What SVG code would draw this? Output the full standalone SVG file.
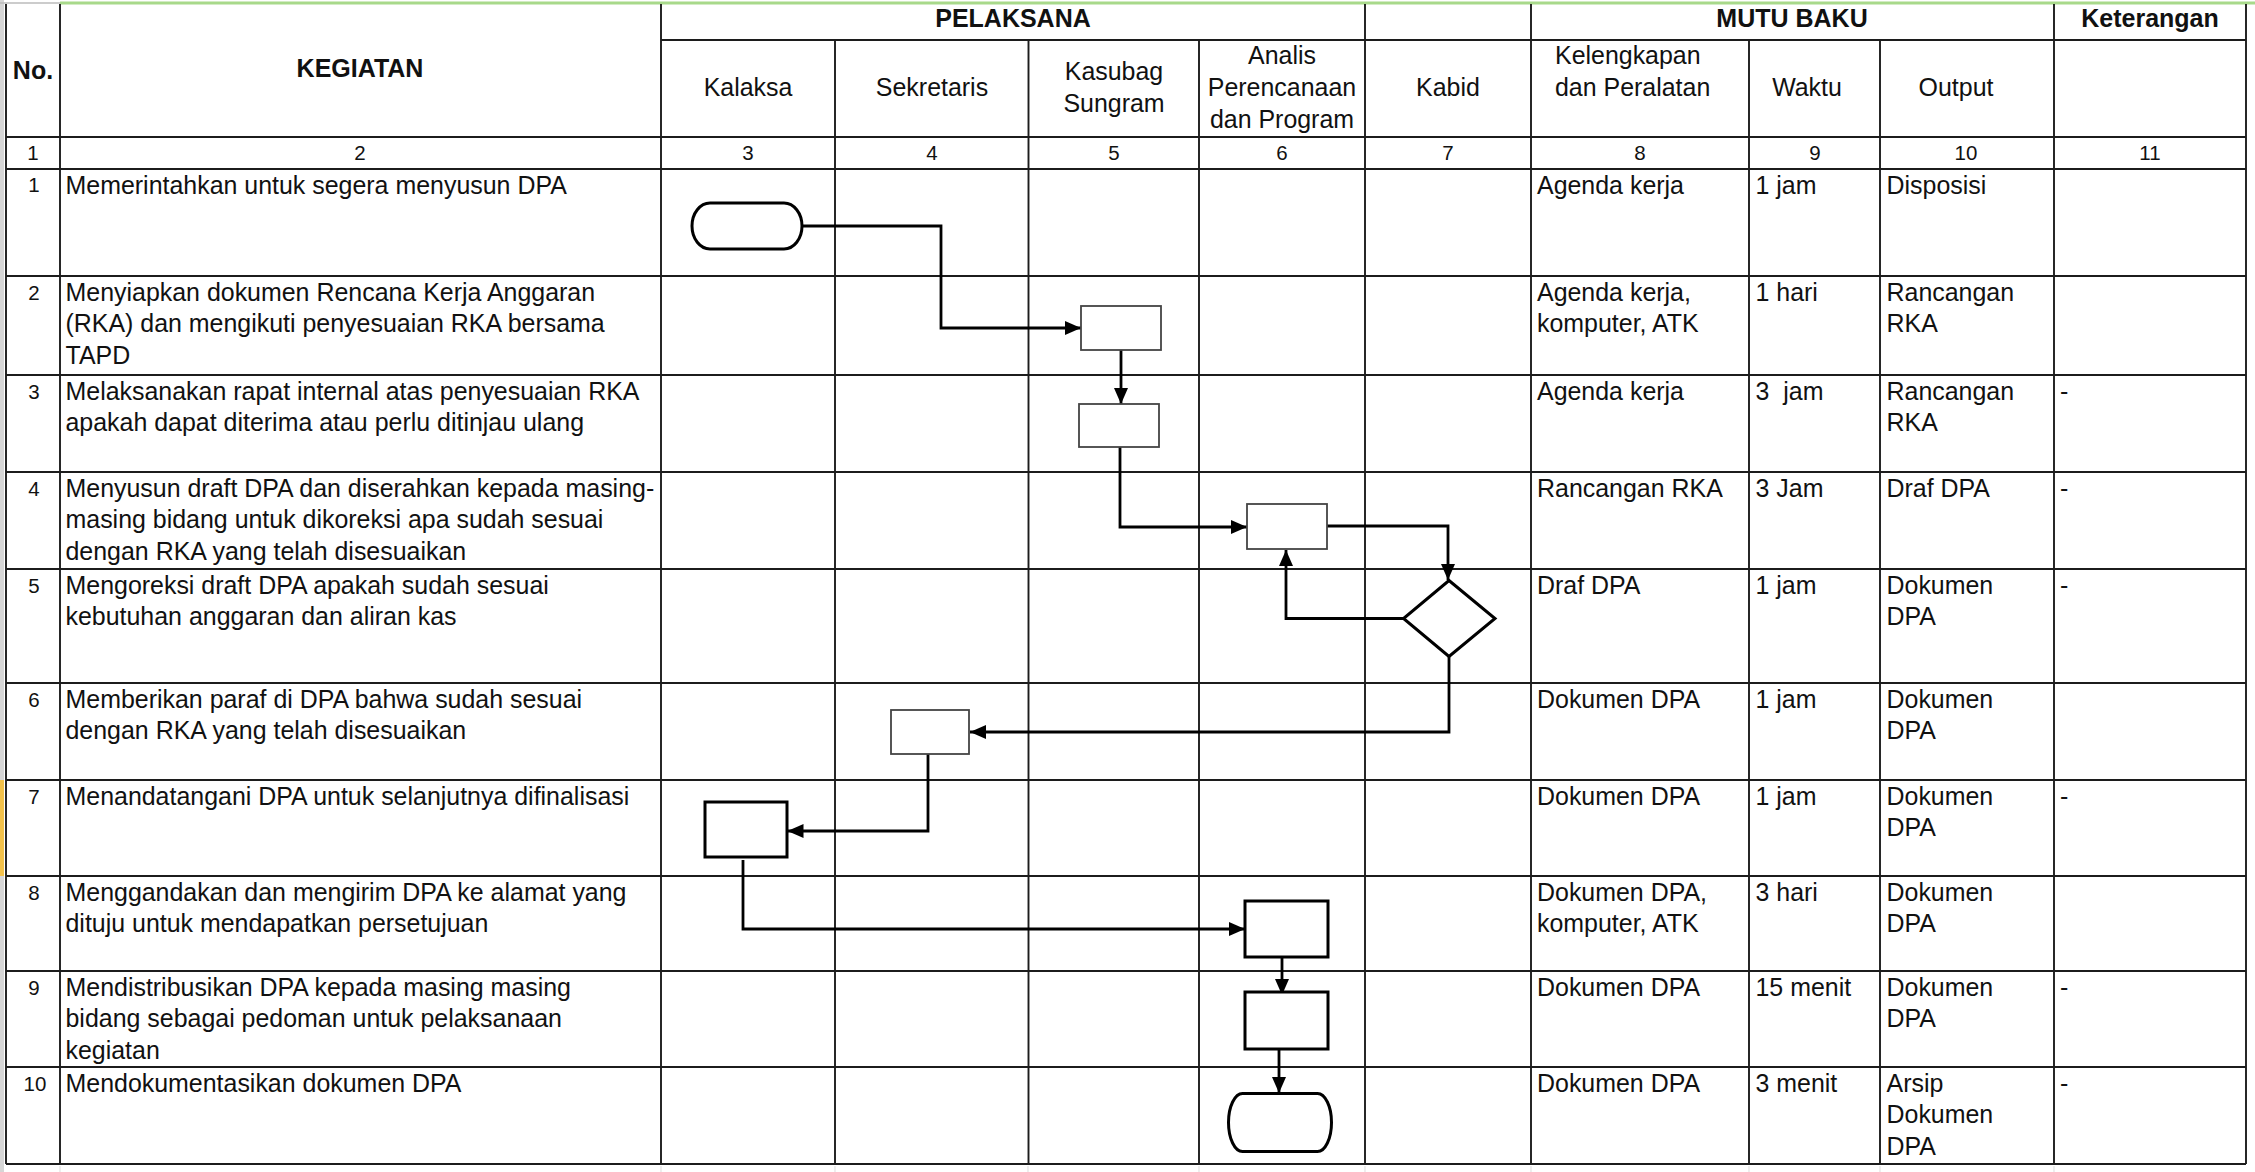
<svg xmlns="http://www.w3.org/2000/svg" width="2255" height="1172" viewBox="0 0 2255 1172">
<style>
  .t { font-family: "Liberation Sans", Arial, sans-serif; font-size: 24.95px; fill: #111; }
  .b { font-family: "Liberation Sans", Arial, sans-serif; font-size: 25px; font-weight: bold; fill: #111; }
  .n { font-family: "Liberation Sans", Arial, sans-serif; font-size: 20.5px; fill: #111; }
  .c { text-anchor: middle; }
  .grid line { stroke: #1c1c1c; stroke-width: 1.9; }
  .thin { fill: #fff; stroke: #444; stroke-width: 1.8; }
  .thick { fill: #fff; stroke: #000; stroke-width: 3; }
  .conn path { fill: none; stroke: #000; stroke-width: 2.8; }
</style>
<defs>
  <marker id="arr" markerUnits="userSpaceOnUse" markerWidth="16" markerHeight="14" refX="16" refY="7" orient="auto">
    <path d="M0,0 L16,7 L0,14 z" fill="#000"/>
  </marker>
</defs>
<rect x="0" y="0" width="2255" height="1172" fill="#fff"/>
<!-- spreadsheet artifacts -->
<rect x="0" y="0" width="4" height="1172" fill="#d6d6d6"/>
<rect x="0" y="780" width="4" height="96" fill="#f2c14a"/>
<line x1="0" y1="3" x2="60" y2="3" stroke="#bbb" stroke-width="1.5"/>
<line x1="60" y1="3" x2="2255" y2="3" stroke="#a8d98a" stroke-width="3"/>
<g stroke="#e2e2e2" stroke-width="1.2">
  <line x1="60" y1="1166" x2="60" y2="1172"/><line x1="661" y1="1166" x2="661" y2="1172"/>
  <line x1="835" y1="1166" x2="835" y2="1172"/><line x1="1028" y1="1166" x2="1028" y2="1172"/>
  <line x1="1199" y1="1166" x2="1199" y2="1172"/><line x1="1365" y1="1166" x2="1365" y2="1172"/>
  <line x1="1531" y1="1166" x2="1531" y2="1172"/><line x1="1749" y1="1166" x2="1749" y2="1172"/>
  <line x1="1880" y1="1166" x2="1880" y2="1172"/><line x1="2054" y1="1166" x2="2054" y2="1172"/>
</g>
<!-- table grid -->
<g class="grid" id="grid">
  <line x1="6" y1="4" x2="6" y2="1164"/>
  <line x1="60" y1="4" x2="60" y2="1164"/>
  <line x1="661" y1="4" x2="661" y2="1164"/>
  <line x1="835" y1="40" x2="835" y2="1164"/>
  <line x1="1028.5" y1="40" x2="1028.5" y2="1164"/>
  <line x1="1199" y1="40" x2="1199" y2="1164"/>
  <line x1="1365" y1="4" x2="1365" y2="1164"/>
  <line x1="1531" y1="4" x2="1531" y2="1164"/>
  <line x1="1749" y1="40" x2="1749" y2="1164"/>
  <line x1="1880" y1="40" x2="1880" y2="1164"/>
  <line x1="2054" y1="4" x2="2054" y2="1164"/>
  <line x1="2246" y1="4" x2="2246" y2="1164"/>
  <line x1="661" y1="40" x2="2246" y2="40"/>
  <line x1="6" y1="137" x2="2246" y2="137"/>
  <line x1="6" y1="169" x2="2246" y2="169"/>
  <line x1="6" y1="276" x2="2246" y2="276"/>
  <line x1="6" y1="375" x2="2246" y2="375"/>
  <line x1="6" y1="472" x2="2246" y2="472"/>
  <line x1="6" y1="569" x2="2246" y2="569"/>
  <line x1="6" y1="683" x2="2246" y2="683"/>
  <line x1="6" y1="780" x2="2246" y2="780"/>
  <line x1="6" y1="876" x2="2246" y2="876"/>
  <line x1="6" y1="971" x2="2246" y2="971"/>
  <line x1="6" y1="1067" x2="2246" y2="1067"/>
  <line x1="6" y1="1164" x2="2246" y2="1164"/>
</g>
<!-- header -->
<g id="header">
  <text class="b c" x="33" y="79">No.</text>
  <text class="b c" x="360" y="77">KEGIATAN</text>
  <text class="b c" x="1013" y="27">PELAKSANA</text>
  <text class="b c" x="1792" y="27">MUTU BAKU</text>
  <text class="b c" x="2150" y="27">Keterangan</text>
  <text class="t c" x="748" y="96">Kalaksa</text>
  <text class="t c" x="932" y="96">Sekretaris</text>
  <text class="t c" x="1114" y="79.5">Kasubag</text>
  <text class="t c" x="1114" y="111.5">Sungram</text>
  <text class="t c" x="1282" y="63.5">Analis</text>
  <text class="t c" x="1282" y="96">Perencanaan</text>
  <text class="t c" x="1282" y="127.5">dan Program</text>
  <text class="t c" x="1448" y="96">Kabid</text>
  <text class="t" x="1555" y="64">Kelengkapan</text>
  <text class="t" x="1555" y="95.5">dan Peralatan</text>
  <text class="t c" x="1807" y="96">Waktu</text>
  <text class="t c" x="1956" y="96">Output</text>
  <text class="n c" x="33" y="160">1</text>
  <text class="n c" x="360" y="160">2</text>
  <text class="n c" x="748" y="160">3</text>
  <text class="n c" x="932" y="160">4</text>
  <text class="n c" x="1114" y="160">5</text>
  <text class="n c" x="1282" y="160">6</text>
  <text class="n c" x="1448" y="160">7</text>
  <text class="n c" x="1640" y="160">8</text>
  <text class="n c" x="1815" y="160">9</text>
  <text class="n c" x="1966" y="160">10</text>
  <text class="n c" x="2150" y="160">11</text>
</g>
<!-- rows -->
<g id="row1">
  <text class="n c" x="34" y="192">1</text>
  <text class="t" x="65.5" y="193.5">Memerintahkan untuk segera menyusun DPA</text>
  <text class="t" x="1537" y="193.5">Agenda kerja</text>
  <text class="t" x="1755.5" y="193.5">1 jam</text>
  <text class="t" x="1886.5" y="193.5">Disposisi</text>
</g>
<g id="row2">
  <text class="n c" x="34" y="299.5">2</text>
  <text class="t" x="65.5" y="300.5">Menyiapkan dokumen Rencana Kerja Anggaran</text>
  <text class="t" x="65.5" y="332">(RKA) dan mengikuti penyesuaian RKA bersama</text>
  <text class="t" x="65.5" y="363.5">TAPD</text>
  <text class="t" x="1537" y="300.5">Agenda kerja,</text>
  <text class="t" x="1537" y="332">komputer, ATK</text>
  <text class="t" x="1755.5" y="300.5">1 hari</text>
  <text class="t" x="1886.5" y="300.5">Rancangan</text>
  <text class="t" x="1886.5" y="332">RKA</text>
</g>
<g id="row3">
  <text class="n c" x="34" y="398.5">3</text>
  <text class="t" x="65.5" y="399.5">Melaksanakan rapat internal atas penyesuaian RKA</text>
  <text class="t" x="65.5" y="431">apakah dapat diterima atau perlu ditinjau ulang</text>
  <text class="t" x="1537" y="399.5">Agenda kerja</text>
  <text class="t" x="1755.5" y="399.5" style="white-space:pre">3  jam</text>
  <text class="t" x="1886.5" y="399.5">Rancangan</text>
  <text class="t" x="1886.5" y="431">RKA</text>
  <text class="t" x="2060" y="399.5">-</text>
</g>
<g id="row4">
  <text class="n c" x="34" y="495.5">4</text>
  <text class="t" x="65.5" y="496.5">Menyusun draft DPA dan diserahkan kepada masing-</text>
  <text class="t" x="65.5" y="528">masing bidang untuk dikoreksi apa sudah sesuai</text>
  <text class="t" x="65.5" y="559.5">dengan RKA yang telah disesuaikan</text>
  <text class="t" x="1537" y="496.5">Rancangan RKA</text>
  <text class="t" x="1755.5" y="496.5">3 Jam</text>
  <text class="t" x="1886.5" y="496.5">Draf DPA</text>
  <text class="t" x="2060" y="496.5">-</text>
</g>
<g id="row5">
  <text class="n c" x="34" y="592.5">5</text>
  <text class="t" x="65.5" y="593.5">Mengoreksi draft DPA apakah sudah sesuai</text>
  <text class="t" x="65.5" y="625">kebutuhan anggaran dan aliran kas</text>
  <text class="t" x="1537" y="593.5">Draf DPA</text>
  <text class="t" x="1755.5" y="593.5">1 jam</text>
  <text class="t" x="1886.5" y="593.5">Dokumen</text>
  <text class="t" x="1886.5" y="625">DPA</text>
  <text class="t" x="2060" y="593.5">-</text>
</g>
<g id="row6">
  <text class="n c" x="34" y="706.5">6</text>
  <text class="t" x="65.5" y="707.5">Memberikan paraf di DPA bahwa sudah sesuai</text>
  <text class="t" x="65.5" y="739">dengan RKA yang telah disesuaikan</text>
  <text class="t" x="1537" y="707.5">Dokumen DPA</text>
  <text class="t" x="1755.5" y="707.5">1 jam</text>
  <text class="t" x="1886.5" y="707.5">Dokumen</text>
  <text class="t" x="1886.5" y="739">DPA</text>
</g>
<g id="row7">
  <text class="n c" x="34" y="803.5">7</text>
  <text class="t" x="65.5" y="804.5">Menandatangani DPA untuk selanjutnya difinalisasi</text>
  <text class="t" x="1537" y="804.5">Dokumen DPA</text>
  <text class="t" x="1755.5" y="804.5">1 jam</text>
  <text class="t" x="1886.5" y="804.5">Dokumen</text>
  <text class="t" x="1886.5" y="836">DPA</text>
  <text class="t" x="2060" y="804.5">-</text>
</g>
<g id="row8">
  <text class="n c" x="34" y="899.5">8</text>
  <text class="t" x="65.5" y="900.5">Menggandakan dan mengirim DPA ke alamat yang</text>
  <text class="t" x="65.5" y="932">dituju untuk mendapatkan persetujuan</text>
  <text class="t" x="1537" y="900.5">Dokumen DPA,</text>
  <text class="t" x="1537" y="932">komputer, ATK</text>
  <text class="t" x="1755.5" y="900.5">3 hari</text>
  <text class="t" x="1886.5" y="900.5">Dokumen</text>
  <text class="t" x="1886.5" y="932">DPA</text>
</g>
<g id="row9">
  <text class="n c" x="34" y="994.5">9</text>
  <text class="t" x="65.5" y="995.5">Mendistribusikan DPA kepada masing masing</text>
  <text class="t" x="65.5" y="1027">bidang sebagai pedoman untuk pelaksanaan</text>
  <text class="t" x="65.5" y="1058.5">kegiatan</text>
  <text class="t" x="1537" y="995.5">Dokumen DPA</text>
  <text class="t" x="1755.5" y="995.5">15 menit</text>
  <text class="t" x="1886.5" y="995.5">Dokumen</text>
  <text class="t" x="1886.5" y="1027">DPA</text>
  <text class="t" x="2060" y="995.5">-</text>
</g>
<g id="row10">
  <text class="n c" x="35" y="1090.5">10</text>
  <text class="t" x="65.5" y="1091.5">Mendokumentasikan dokumen DPA</text>
  <text class="t" x="1537" y="1091.5">Dokumen DPA</text>
  <text class="t" x="1755.5" y="1091.5">3 menit</text>
  <text class="t" x="1886.5" y="1091.5">Arsip</text>
  <text class="t" x="1886.5" y="1123">Dokumen</text>
  <text class="t" x="1886.5" y="1154.5">DPA</text>
  <text class="t" x="2060" y="1091.5">-</text>
</g>
<!-- connectors -->
<g class="conn" id="connectors">
  <path d="M802,226 H941 V328 H1081" marker-end="url(#arr)"/>
  <path d="M1121,350 V404" marker-end="url(#arr)"/>
  <path d="M1120,447 V527 H1247" marker-end="url(#arr)"/>
  <path d="M1327,526 H1448 V580" marker-end="url(#arr)"/>
  <path d="M1403,618.5 H1286 V550" marker-end="url(#arr)"/>
  <path d="M1449,656 V732 H970" marker-end="url(#arr)"/>
  <path d="M928,754 V831 H787.5" marker-end="url(#arr)"/>
  <path d="M743,860 V929 H1245" marker-end="url(#arr)"/>
  <path d="M1282,957 V995" marker-end="url(#arr)"/>
  <path d="M1279,1049 V1093" marker-end="url(#arr)"/>
</g>
<!-- nodes -->
<g id="start"><rect class="thick" x="692" y="203" width="110" height="46" rx="18" ry="23"/></g>
<g id="boxA"><rect class="thin" x="1081" y="306" width="80" height="44"/></g>
<g id="boxB"><rect class="thin" x="1079" y="404" width="80" height="43"/></g>
<g id="boxC"><rect class="thin" x="1247" y="504" width="80" height="45"/></g>
<g id="decision"><polygon class="thick" points="1449,580.5 1495,618.5 1449,656.5 1403.5,618.5"/></g>
<g id="boxD"><rect class="thin" x="891" y="710" width="78" height="44"/></g>
<g id="boxE"><rect class="thick" x="705" y="802" width="82" height="55"/></g>
<g id="boxF"><rect class="thick" x="1245" y="901" width="83" height="56"/></g>
<g id="boxG"><rect class="thick" x="1245" y="992" width="83" height="57"/></g>
<g id="end"><rect class="thick" x="1228.5" y="1093.5" width="103" height="58" rx="14" ry="29"/></g>
</svg>
